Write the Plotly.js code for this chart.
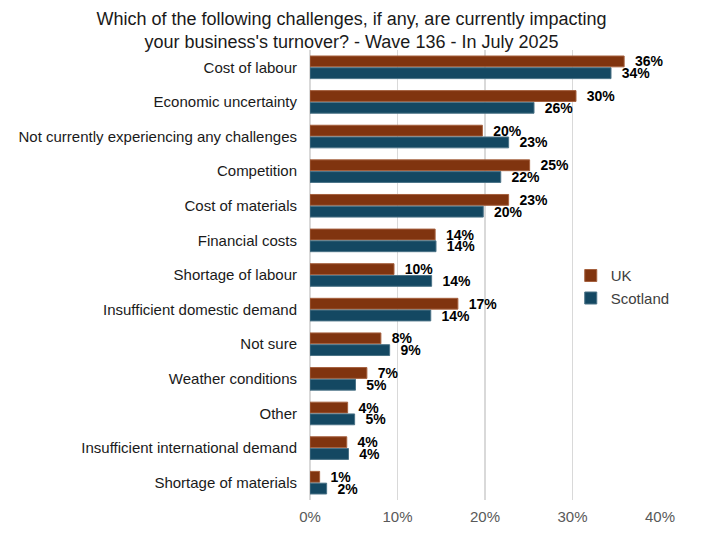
<!DOCTYPE html>
<html>
<head>
<meta charset="utf-8">
<script src="https://cdn.plot.ly/plotly-3.0.1.min.js"></script>
<style>
    html, body { margin: 0; padding: 0; background: #fff; }
    #chart { width: 703px; height: 535px; }
</style>
</head>
<body>
<div id="chart"></div>
<script>
// Challenges impacting turnover - Wave 136 (July 2025)
const categories = [
    'Cost of labour',
    'Economic uncertainty',
    'Not currently experiencing any challenges',
    'Competition',
    'Cost of materials',
    'Financial costs',
    'Shortage of labour',
    'Insufficient domestic demand',
    'Not sure',
    'Weather conditions',
    'Other',
    'Insufficient international demand',
    'Shortage of materials',
];

const ukValues       = [35.9, 30.4, 19.7, 25.1, 22.7, 14.3, 9.6, 16.9, 8.1, 6.5, 4.3, 4.2, 1.1];
const scotlandValues = [34.4, 25.6, 22.7, 21.8, 19.8, 14.4, 13.9, 13.8, 9.1, 5.2, 5.1, 4.4, 1.9];

const xTicks = [0, 10, 20, 30, 40];

const FONT = 'Liberation Sans, Arial, sans-serif';
const UK_COLOR = '#80340f';
const SCOT_COLOR = '#144862';

function barTrace(name, values, color, edge) {
    return {
        type: 'bar',
        orientation: 'h',
        name: name,
        legendgroup: name,
        y: categories,
        x: values,
        marker: { color: color, line: { color: edge, width: 1 } },
        // nbsp pad keeps the label clear of the bar end
        text: values.map(v => '\u00a0\u00a0' + Math.round(v) + '%'),
        textposition: 'outside',
        constraintext: 'none',
        cliponaxis: false,
        textfont: { family: FONT, size: 14, color: '#000', weight: 'bold' },
        hoverinfo: 'name+x',
    };
}

const traces = [
    barTrace('UK', ukValues, UK_COLOR, '#a5603e'),
    barTrace('Scotland', scotlandValues, SCOT_COLOR, '#4a7286'),
];

const layout = {
    width: 703,
    height: 535,
    paper_bgcolor: '#fff',
    plot_bgcolor: '#fff',
    font: { family: FONT, size: 15, color: '#000' },
    margin: { l: 310, r: 43, t: 50, b: 35 },
    title: {
        text: 'Which of the following challenges, if any, are currently impacting<br>your business\'s turnover? - Wave 136 - In July 2025',
        font: { family: FONT, size: 18, color: '#1a1a1a' },
        x: 0.5,
        xref: 'container',
        y: 0.954,
        yref: 'container',
        yanchor: 'top',
    },
    barmode: 'group',
    bargap: 0.32,
    bargroupgap: 0.08,
    xaxis: {
        range: [0, 40],
        tickvals: xTicks,
        ticktext: xTicks.map(t => t + '%'),
        showgrid: true,
        gridcolor: '#d9d9d9',
        gridwidth: 1.5,
        zeroline: true,
        zerolinecolor: '#d9d9d9',
        zerolinewidth: 1.5,
        tickfont: { family: FONT, size: 15, color: '#595959' },
        ticklabelstandoff: 6,
        fixedrange: true,
    },
    yaxis: {
        autorange: 'reversed',
        showgrid: false,
        zeroline: false,
        tickfont: { family: FONT, size: 15, color: '#1a1a1a' },
        ticklabelstandoff: 12,
        fixedrange: true,
    },
    legend: {
        x: 0.745,
        xanchor: 'left',
        y: 0.535,
        yanchor: 'top',
        traceorder: 'normal',
        tracegroupgap: 8,
        font: { family: FONT, size: 15, color: '#404040' },
        bgcolor: 'rgba(0,0,0,0)',
        itemwidth: 30,
    },
    showlegend: true,
};

Plotly.newPlot('chart', traces, layout, { displayModeBar: false, staticPlot: true });
</script>
</body>
</html>
